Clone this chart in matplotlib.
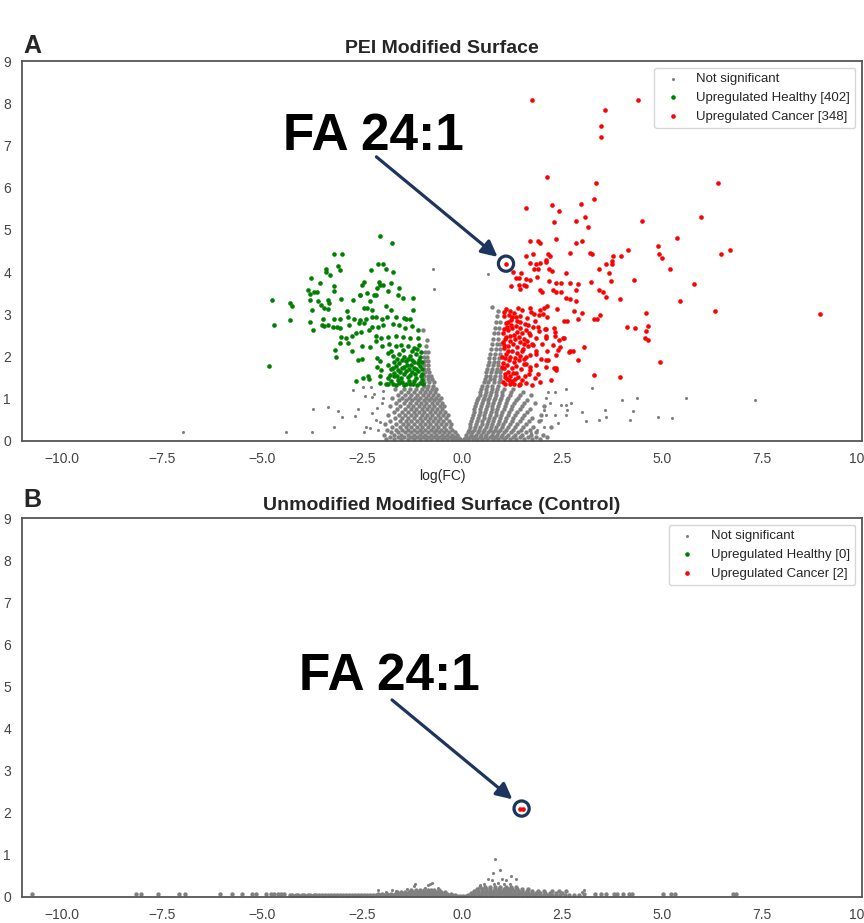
import numpy as np
import matplotlib.pyplot as plt

plt.rcParams['font.family'] = ['Liberation Sans', 'DejaVu Sans']
plt.rcParams['axes.linewidth'] = 1.3

# ---------------- data ----------------
# panel A: PEI modified surface
# not significant points, dense lobes given as rows (y, [x ...])
ns_pei_left_rows = [
    (0.04, [-1.90, -1.71, -1.52, -1.36, -1.20, -1.05, -0.91, -0.77, -0.63, -0.50, -0.37, -0.25, -0.14, -0.05]),
    (0.09, [-1.81, -1.61, -1.44, -1.28, -1.13, -0.98, -0.84, -0.70, -0.57, -0.44, -0.31, -0.19, -0.09]),
    (0.15, [-1.95, -1.70, -1.53, -1.36, -1.21, -1.06, -0.92, -0.78, -0.64, -0.51, -0.38, -0.26, -0.12]),
    (0.21, [-1.78, -1.59, -1.43, -1.28, -1.13, -0.99, -0.85, -0.71, -0.58, -0.45, -0.32, -0.17]),
    (0.27, [-1.88, -1.66, -1.50, -1.35, -1.20, -1.06, -0.92, -0.78, -0.65, -0.52, -0.39, -0.25]),
    (0.33, [-1.74, -1.56, -1.41, -1.27, -1.13, -0.99, -0.85, -0.72, -0.59, -0.46, -0.30]),
    (0.40, [-1.92, -1.64, -1.48, -1.34, -1.20, -1.06, -0.92, -0.79, -0.66, -0.53, -0.40, -0.28]),
    (0.47, [-1.79, -1.56, -1.41, -1.27, -1.13, -0.99, -0.86, -0.73, -0.60, -0.47, -0.32]),
    (0.54, [-1.68, -1.49, -1.34, -1.20, -1.06, -0.93, -0.80, -0.67, -0.54, -0.40]),
    (0.61, [-1.86, -1.58, -1.42, -1.28, -1.14, -1.00, -0.87, -0.74, -0.61, -0.48, -0.36]),
    (0.68, [-1.71, -1.50, -1.35, -1.21, -1.07, -0.94, -0.81, -0.68, -0.55, -0.42]),
    (0.75, [-1.62, -1.43, -1.28, -1.14, -1.01, -0.88, -0.75, -0.62, -0.49]),
    (0.82, [-1.80, -1.54, -1.36, -1.22, -1.08, -0.95, -0.82, -0.69, -0.56, -0.44]),
    (0.89, [-1.66, -1.46, -1.30, -1.16, -1.02, -0.89, -0.76, -0.63, -0.50]),
    (0.96, [-1.57, -1.39, -1.24, -1.10, -0.96, -0.83, -0.70, -0.58]),
    (1.03, [-1.74, -1.50, -1.33, -1.18, -1.04, -0.91, -0.78, -0.65, -0.53]),
    (1.10, [-1.61, -1.43, -1.27, -1.12, -0.98, -0.85, -0.72, -0.60]),
    (1.17, [-1.53, -1.36, -1.21, -1.06, -0.93, -0.80, -0.67]),
    (1.24, [-1.68, -1.45, -1.30, -1.15, -1.01, -0.88, -0.75, -0.64]),
    (1.31, [-0.96, -0.84, -0.72]),
    (1.39, [-0.94, -0.82, -0.70]),
    (1.47, [-0.97, -0.86, -0.76]),
    (1.55, [-0.95, -0.84, -0.78]),
    (1.63, [-0.93, -0.82]),
    (1.71, [-0.96, -0.86]),
    (1.80, [-0.94, -0.84]),
    (1.89, [-0.92, -0.85]),
    (1.98, [-0.96, -0.88]),
    (2.10, [-0.93, -0.86]),
    (2.25, [-0.91]),
    (2.40, [-0.88]),
    (2.63, [-0.97]),
]
ns_pei_right_rows = [
    (0.04, [0.06, 0.15, 0.27, 0.38, 0.51, 0.63, 0.77, 0.90, 1.04, 1.19, 1.36, 1.55, 1.74, 1.96]),
    (0.09, [0.09, 0.19, 0.31, 0.44, 0.57, 0.70, 0.83, 0.97, 1.11, 1.27, 1.45, 1.64, 1.86, 2.12]),
    (0.15, [0.11, 0.23, 0.35, 0.48, 0.61, 0.74, 0.87, 1.01, 1.16, 1.32, 1.51, 1.72, 2.02]),
    (0.21, [0.14, 0.26, 0.39, 0.52, 0.65, 0.78, 0.91, 1.06, 1.22, 1.40, 1.60, 1.84]),
    (0.27, [0.17, 0.30, 0.43, 0.56, 0.69, 0.82, 0.96, 1.11, 1.28, 1.47, 1.69]),
    (0.33, [0.19, 0.33, 0.46, 0.59, 0.72, 0.86, 1.00, 1.15, 1.33, 1.53, 1.78, 2.22]),
    (0.40, [0.21, 0.35, 0.49, 0.62, 0.75, 0.89, 1.03, 1.19, 1.38, 1.60]),
    (0.47, [0.23, 0.37, 0.51, 0.65, 0.78, 0.92, 1.07, 1.24, 1.44, 1.68, 1.93]),
    (0.54, [0.25, 0.40, 0.54, 0.68, 0.81, 0.95, 1.10, 1.28, 1.50, 1.76]),
    (0.61, [0.27, 0.42, 0.56, 0.70, 0.84, 0.98, 1.14, 1.33, 1.56, 1.98]),
    (0.68, [0.29, 0.44, 0.58, 0.72, 0.86, 1.01, 1.18, 1.38, 1.62]),
    (0.75, [0.30, 0.46, 0.60, 0.74, 0.88, 1.04, 1.22, 1.44, 1.70]),
    (0.82, [0.32, 0.48, 0.62, 0.76, 0.91, 1.07, 1.26, 1.50, 2.04]),
    (0.89, [0.35, 0.50, 0.64, 0.78, 0.93, 1.10, 1.30, 1.56, 1.82]),
    (0.96, [0.38, 0.52, 0.66, 0.80, 0.95, 1.13, 1.35, 1.63]),
    (1.03, [0.41, 0.55, 0.68, 0.82, 0.97, 1.16, 1.40]),
    (1.10, [0.44, 0.57, 0.70, 0.84, 0.99, 1.19, 1.46, 1.72]),
    (1.17, [0.46, 0.59, 0.72, 0.86, 1.01, 1.23, 1.53]),
    (1.24, [0.48, 0.61, 0.74, 0.88, 1.04, 1.28]),
    (1.31, [0.51, 0.63, 0.76, 0.89]),
    (1.39, [0.54, 0.66, 0.79, 0.92]),
    (1.47, [0.57, 0.69, 0.81, 0.94]),
    (1.55, [0.59, 0.71, 0.83, 0.95]),
    (1.63, [0.61, 0.73, 0.85, 0.96]),
    (1.71, [0.63, 0.75, 0.87, 0.97]),
    (1.79, [0.65, 0.77, 0.89]),
    (1.88, [0.67, 0.79, 0.91]),
    (1.97, [0.68, 0.80, 0.92]),
    (2.07, [0.70, 0.82, 0.94]),
    (2.18, [0.72, 0.84, 0.95]),
    (2.30, [0.75, 0.87, 0.96]),
    (2.42, [0.77, 0.89]),
    (2.55, [0.80, 0.91]),
    (2.68, [0.82, 0.93]),
    (2.82, [0.84, 0.95]),
    (2.96, [0.87]),
    (3.08, [0.90]),
    (3.17, [0.74]),
]
ns_pei_scatter = [
    (-6.97, 0.22), (-4.39, 0.22), (-3.75, 0.22), (-3.72, 0.76), (-3.36, 0.81), (-3.20, 0.33),
    (-3.09, 0.72), (-3.01, 0.56), (-2.73, 1.21), (-2.67, 0.59), (-2.61, 0.76), (-2.47, 1.29),
    (-2.42, 1.07), (-2.28, 1.29), (-2.25, 1.05), (-2.45, 0.22), (-2.41, 0.34), (-2.31, 0.30),
    (-2.25, 0.67), (-2.15, 0.50), (-2.09, 0.26), (-2.01, 0.89), (-1.97, 1.01), (-2.05, 0.45),
    (-2.12, 0.78), (-1.98, 1.18), (-2.20, 1.12), (-0.73, 4.07), (-0.69, 3.59), (0.66, 3.95),
    (7.33, 0.96), (5.61, 1.03), (5.26, 0.54), (4.90, 0.56), (4.38, 1.03), (4.28, 0.71),
    (4.20, 0.50), (3.99, 0.96), (3.57, 0.74), (3.59, 0.58), (3.43, 0.49), (3.11, 0.48),
    (3.01, 0.69), (3.26, 1.26), (2.60, 1.24), (2.72, 0.91), (2.59, 0.86), (2.47, 0.86),
    (2.62, 0.73), (2.59, 0.61), (2.41, 0.43), (2.32, 0.61), (2.14, 1.17), (2.32, 1.17),
    (2.10, 1.01), (2.19, 0.89), (2.04, 0.73), (2.10, 0.61), (1.97, 0.50), (2.05, 0.34),
    (1.88, 0.26), (1.72, 0.20),
]
healthy_pei = [
    (-4.83, 1.78), (-4.76, 3.35), (-4.71, 2.74), (-4.30, 2.87), (-4.29, 3.28), (-4.25, 3.20),
    (-2.06, 4.86), (-1.75, 4.70), (-3.19, 4.43), (-3.00, 4.43), (-3.09, 4.15), (-3.05, 4.05),
    (-3.40, 4.07), (-3.41, 4.01), (-3.31, 3.93), (-2.10, 4.19), (-1.97, 4.19), (-2.28, 4.05),
    (-1.90, 4.07), (-1.73, 4.00), (-3.77, 3.85), (-3.55, 3.74), (-3.84, 3.58), (-3.79, 3.48),
    (-3.69, 3.52), (-3.63, 3.52), (-3.21, 3.66), (-3.20, 3.55), (-2.46, 3.76), (-2.49, 3.69),
    (-2.08, 3.77), (-2.04, 3.70), (-1.97, 3.69), (-2.12, 3.62), (-1.78, 3.75), (-1.57, 3.62),
    (-1.84, 3.55), (-2.56, 3.46), (-2.54, 3.45), (-2.38, 3.50), (-2.19, 3.45), (-1.61, 3.45),
    (-1.48, 3.38), (-1.23, 3.39), (-3.79, 3.33), (-3.61, 3.32), (-3.53, 3.22), (-3.36, 3.34),
    (-3.32, 3.28), (-3.03, 3.36), (-2.73, 3.35), (-2.30, 3.32), (-2.14, 3.45), (-3.76, 3.10),
    (-3.44, 3.14), (-3.36, 3.13), (-2.87, 3.08), (-2.46, 3.14), (-2.37, 3.14), (-2.24, 3.10),
    (-1.90, 3.20), (-1.78, 3.10), (-1.23, 3.10), (-3.47, 2.90), (-3.20, 2.88), (-3.05, 2.88),
    (-2.86, 2.93), (-2.71, 2.88), (-2.55, 2.86), (-2.40, 2.90), (-2.26, 2.93), (-2.14, 2.94),
    (-2.01, 2.90), (-1.88, 2.93), (-1.66, 2.93), (-1.46, 2.92), (-1.40, 2.88), (-1.30, 2.88),
    (-3.79, 2.82), (-3.73, 2.64), (-3.51, 2.75), (-3.44, 2.73), (-3.34, 2.75), (-3.23, 2.70),
    (-3.13, 2.70), (-3.05, 2.67), (-2.82, 2.75), (-2.58, 2.79), (-2.44, 2.79), (-2.24, 2.70),
    (-2.09, 2.70), (-1.97, 2.75), (-1.73, 2.77), (-1.57, 2.75), (-1.42, 2.67), (-1.25, 2.73),
    (-1.11, 2.63), (-3.03, 2.47), (-2.90, 2.43), (-2.74, 2.49), (-2.65, 2.55), (-2.53, 2.59),
    (-2.33, 2.63), (-2.14, 2.49), (-2.02, 2.43), (-1.85, 2.47), (-1.65, 2.49), (-1.48, 2.46),
    (-1.31, 2.43), (-1.11, 2.43), (-3.05, 2.32), (-2.84, 2.32), (-2.76, 2.12), (-2.50, 2.26),
    (-2.30, 2.23), (-2.14, 2.36), (-2.00, 2.24), (-1.82, 2.30), (-1.66, 2.24), (-1.52, 2.28),
    (-1.35, 2.24), (-1.19, 2.20), (-1.07, 2.28), (-3.17, 2.15), (-3.14, 1.99), (-2.59, 1.91),
    (-2.50, 1.94), (-2.13, 1.96), (-2.05, 1.89), (-1.86, 2.08), (-1.73, 2.01), (-1.57, 2.06),
    (-1.45, 2.00), (-1.31, 2.01), (-1.16, 2.06), (-1.06, 2.00), (-2.13, 1.76), (-2.02, 1.68),
    (-1.86, 1.80), (-1.73, 1.72), (-1.57, 1.84), (-1.45, 1.76), (-1.28, 1.80), (-1.11, 1.84),
    (-2.48, 1.49), (-2.35, 1.53), (-2.33, 1.46), (-2.06, 1.53), (-1.86, 1.49), (-1.69, 1.53),
    (-1.52, 1.49), (-1.36, 1.51), (-1.15, 1.49), (-1.03, 1.53), (-2.66, 1.42), (-2.06, 1.38),
    (-1.90, 1.35), (-1.73, 1.35), (-1.57, 1.37), (-1.40, 1.35), (-1.23, 1.35), (-1.06, 1.37),
    (-1.84, 1.34), (-1.77, 1.41), (-1.66, 1.33), (-1.61, 1.45), (-1.49, 1.40), (-1.44, 1.33),
    (-1.33, 1.43), (-1.29, 1.36), (-1.19, 1.42), (-1.12, 1.33), (-1.01, 1.44), (-0.98, 1.34),
    (-1.80, 1.56), (-1.71, 1.61), (-1.63, 1.55), (-1.55, 1.63), (-1.46, 1.58), (-1.39, 1.65),
    (-1.30, 1.57), (-1.24, 1.64), (-1.17, 1.58), (-1.09, 1.66), (-1.00, 1.59), (-1.77, 1.70),
    (-1.66, 1.77), (-1.60, 1.69), (-1.51, 1.72), (-1.38, 1.81), (-1.33, 1.70), (-1.21, 1.74),
    (-1.14, 1.71), (-1.05, 1.78), (-0.99, 1.71), (-1.69, 1.88), (-1.62, 1.94), (-1.50, 1.91),
    (-1.41, 1.89), (-1.36, 1.95), (-1.24, 1.92), (-1.19, 1.88), (-1.08, 1.93), (-1.00, 1.87),
    (-1.78, 2.12), (-1.47, 2.15), (-1.26, 2.14), (-1.12, 2.17), (-1.02, 2.11),
]
cancer_pei = [
    (1.75, 8.07), (4.41, 8.07), (3.57, 7.84), (3.47, 7.45), (3.47, 7.20), (2.13, 6.26),
    (3.35, 6.10), (6.41, 6.10), (1.59, 5.53), (2.24, 5.58), (2.42, 5.45), (2.98, 5.61),
    (3.30, 5.73), (2.31, 5.18), (2.84, 5.21), (3.08, 5.30), (3.16, 5.06), (4.51, 5.21),
    (5.98, 5.30), (5.38, 4.80), (1.69, 4.74), (1.90, 4.73), (1.94, 4.70), (2.36, 4.78),
    (2.86, 4.70), (3.01, 4.74), (4.89, 4.62), (1.59, 4.39), (1.78, 4.43), (2.14, 4.43),
    (2.20, 4.38), (2.70, 4.46), (3.20, 4.45), (3.25, 4.44), (3.78, 4.38), (3.97, 4.38),
    (4.16, 4.52), (4.92, 4.42), (5.00, 4.34), (6.47, 4.42), (6.69, 4.52), (1.69, 4.21),
    (1.86, 4.20), (1.95, 4.21), (2.10, 4.29), (2.11, 4.23), (3.59, 4.20), (3.76, 4.27),
    (3.76, 4.19), (5.21, 4.07), (1.80, 4.07), (1.90, 4.07), (2.17, 4.07), (2.24, 4.02),
    (2.59, 3.99), (3.43, 4.07), (3.67, 3.99), (1.27, 4.01), (1.47, 3.99), (1.43, 3.85),
    (1.35, 3.85), (1.60, 3.83), (1.71, 3.82), (1.88, 3.88), (2.18, 3.78), (2.35, 3.75),
    (2.48, 3.75), (2.71, 3.75), (2.89, 3.72), (3.23, 3.76), (3.73, 3.78), (4.30, 3.82),
    (5.79, 3.72), (1.23, 3.68), (1.43, 3.69), (1.45, 3.59), (1.55, 3.70), (1.61, 3.67),
    (1.94, 3.58), (1.99, 3.53), (2.27, 3.58), (2.35, 3.53), (2.47, 3.52), (2.85, 3.58),
    (3.43, 3.58), (3.53, 3.52), (2.59, 3.38), (2.70, 3.36), (2.85, 3.31), (3.61, 3.40),
    (3.96, 3.37), (5.44, 3.32), (6.33, 3.09), (8.95, 3.01), (4.61, 3.03), (4.64, 2.73),
    (4.61, 2.61), (4.57, 2.43), (4.65, 2.40), (4.13, 2.71), (4.33, 2.67), (4.95, 1.87),
    (3.94, 1.52), (3.29, 1.56), (3.05, 2.22), (2.91, 1.92), (2.71, 2.12), (2.78, 2.12),
    (2.53, 2.44), (2.43, 2.39), (2.63, 2.84), (2.55, 2.84), (2.80, 3.07), (2.99, 3.03),
    (2.89, 2.90), (3.31, 2.90), (3.38, 2.90), (3.46, 2.99), (2.29, 2.67), (2.32, 2.58),
    (2.28, 2.28), (2.40, 2.16), (2.22, 1.44), (2.29, 1.74), (2.36, 1.68), (2.15, 1.92),
    (2.10, 1.93), (1.91, 1.59), (2.10, 2.45), (2.09, 2.66), (1.74, 1.33), (1.42, 1.33),
    (1.11, 3.12), (1.40, 3.16), (1.70, 3.16), (1.95, 3.11), (2.04, 3.15), (2.12, 3.20),
    (1.17, 2.98), (1.25, 2.93), (1.34, 2.94), (1.44, 2.96), (1.72, 3.06), (1.80, 3.01),
    (1.92, 2.98), (2.02, 3.01), (2.13, 2.94), (2.38, 3.12), (1.15, 2.83), (1.23, 2.87),
    (1.38, 2.85), (1.46, 2.82), (1.65, 2.75), (1.77, 2.71), (1.89, 2.69), (2.07, 2.66),
    (1.05, 2.65), (1.16, 2.63), (1.25, 2.67), (1.38, 2.59), (1.50, 2.55), (1.61, 2.63),
    (1.70, 2.50), (1.85, 2.44), (2.09, 2.48), (2.32, 2.48), (2.54, 2.44), (1.09, 2.47),
    (1.21, 2.38), (1.32, 2.41), (1.44, 2.35), (1.55, 2.30), (1.65, 2.24), (1.77, 2.28),
    (1.99, 2.30), (2.46, 2.22), (1.05, 2.20), (1.16, 2.14), (1.25, 2.12), (1.38, 2.08),
    (1.49, 2.12), (1.59, 2.00), (1.71, 2.04), (1.86, 2.06), (2.12, 2.12), (2.35, 2.04),
    (2.67, 2.10), (1.07, 1.96), (1.17, 1.92), (1.30, 1.86), (1.42, 1.92), (1.55, 1.83),
    (1.69, 1.76), (1.84, 1.80), (2.09, 1.75), (2.34, 1.72), (1.05, 1.72), (1.16, 1.64),
    (1.28, 1.60), (1.40, 1.52), (1.17, 1.44), (1.07, 1.36), (1.19, 1.35), (1.46, 1.36),
    (1.67, 1.58), (1.07, 1.52), (1.01, 1.75), (1.01, 1.99), (1.02, 2.35), (1.02, 2.55),
    (1.09, 2.79), (1.05, 2.95), (1.03, 1.40), (1.12, 1.48), (1.24, 1.42), (1.33, 1.47),
    (1.08, 1.58), (1.21, 1.55), (1.35, 1.62), (1.50, 1.45), (1.58, 1.55), (1.03, 1.85),
    (1.13, 1.80), (1.25, 1.72), (1.36, 1.78), (1.47, 1.70), (1.60, 1.82), (1.10, 2.05),
    (1.21, 2.00), (1.33, 1.97), (1.45, 2.02), (1.04, 2.28), (1.14, 2.25), (1.27, 2.30),
    (1.38, 2.22), (1.52, 2.18), (1.63, 2.38), (1.08, 2.42), (1.20, 2.48), (1.31, 2.52),
    (1.43, 2.46), (1.55, 2.42), (1.12, 2.70), (1.23, 2.75), (1.34, 2.72), (1.46, 2.68),
    (1.58, 2.78), (1.68, 2.55), (1.06, 3.05), (1.19, 3.08), (1.30, 3.02), (1.50, 3.10),
    (1.62, 2.92), (1.82, 2.85), (1.75, 2.30), (1.86, 2.12), (1.93, 2.60), (1.98, 1.95),
    (1.56, 1.95), (1.70, 1.68), (1.82, 1.50), (1.95, 1.40), (1.29, 1.35), (1.60, 1.38),
    (1.10, 4.20),
]
healthy_count_pei = 402
cancer_count_pei = 348
fa_pei = (1.10, 4.20)

# panel B: unmodified surface (control)
ns_ctrl_rows = [
    (0.07, [-10.76, -8.14, -8.02, -7.60, -7.08, -6.93, -6.06, -5.75, -5.50, -5.25, -5.14,
            -4.90, -4.77, -4.69, -4.61, -4.52, -4.44]),
    (0.05, [-4.31, -4.24, -4.16, -4.09, -4.01, -3.94, -3.86, -3.79, -3.71, -3.64, -3.57,
            -3.49, -3.42, -3.34, -3.27, -3.19, -3.12, -3.04, -2.97, -2.89, -2.82, -2.74,
            -2.67, -2.59, -2.52, -2.44, -2.37, -2.29, -2.22]),
    (0.03, [-4.20, -4.05, -3.90, -3.75, -3.60, -3.45, -3.30, -3.15, -3.00, -2.85, -2.70,
            -2.55, -2.40, -2.25]),
    (0.04, [-2.15, -2.05, -1.95, -1.85, -1.75, -1.65, -1.55, -1.45, -1.35, -1.25, -1.15,
            -1.05, -0.95, -0.85, -0.75, -0.65, -0.55, -0.45, -0.35, -0.25, -0.17,
            0.15, 0.24, 0.33, 0.42, 0.51, 0.60, 0.69, 0.78, 0.87, 0.96, 1.05, 1.14, 1.23,
            1.32, 1.41, 1.50, 1.59, 1.68, 1.77, 1.86, 1.95, 2.05, 2.15, 2.25, 2.35, 2.46,
            2.57, 2.68, 2.80, 2.92]),
    (0.08, [-2.10, -1.99, -1.88, -1.78, -1.68, -1.57, -1.47, -1.37, -1.27, -1.17, -1.07,
            -0.97, -0.87, -0.77, -0.67, -0.57, -0.47, -0.37, -0.28]),
    (0.12, [-1.62, -1.52, -1.42, -1.32, -1.22, -1.12, -1.02, -0.92, -0.82, -0.72, -0.62,
            -0.52, -0.42]),
    (0.16, [-1.28, -1.15, -1.04, -0.95, -0.86, -0.78, -0.69, -0.58]),
    (0.02, [-0.12, -0.05, 0.03, 0.09]),
    (0.09, [0.22, 0.31, 0.40, 0.49, 0.58, 0.67, 0.76, 0.85, 0.94, 1.03, 1.12, 1.21, 1.30,
            1.39, 1.48, 1.57, 1.66, 1.75, 1.85, 1.96, 2.08, 2.20, 2.34, 2.50]),
    (0.14, [0.30, 0.40, 0.50, 0.60, 0.70, 0.80, 0.90, 1.00, 1.10, 1.20, 1.30, 1.40, 1.50,
            1.62, 1.75, 1.90, 2.06, 2.25, 2.42, 2.60]),
    (0.19, [0.38, 0.49, 0.60, 0.71, 0.82, 0.93, 1.04, 1.15, 1.26, 1.37, 1.50, 1.65]),
    (0.24, [0.45, 0.58, 0.70, 0.83, 0.96, 1.09, 1.22, 1.36]),
    (0.06, [3.05, 3.33, 3.47, 3.59, 3.81, 3.88, 4.03, 4.17, 4.26, 5.02, 5.23, 5.32,
            6.78, 6.86]),
]
ns_ctrl_scatter = [
    (-2.11, 0.17), (-1.90, 0.13), (-1.74, 0.16), (-1.64, 0.15), (-1.37, 0.20), (-1.21, 0.27),
    (-1.18, 0.30), (-0.92, 0.22), (-0.84, 0.28), (-0.80, 0.32), (-0.75, 0.34), (-0.60, 0.21),
    (0.46, 0.28), (0.55, 0.30), (0.66, 0.42), (0.74, 0.40), (0.78, 0.56), (0.80, 0.32),
    (0.82, 0.90), (0.95, 0.64), (1.01, 0.42), (1.11, 0.40), (1.23, 0.51), (1.34, 0.42),
    (1.05, 0.30), (0.90, 0.34), (1.20, 0.32), (3.05, 0.16), (3.00, 0.12),
]
healthy_ctrl = []
cancer_ctrl = [(1.46, 2.10), (1.52, 2.10)]
healthy_count_ctrl = 0
cancer_count_ctrl = 2
fa_ctrl = (1.49, 2.10)

navy = '#1c355e'
txt = '#262626'


def rows_to_xy(rows):
    pts = [(x, y) for y, xs in rows for x in xs]
    return np.array(pts).reshape(-1, 2)


def volcano(ax, ns_dense, ns_sparse, healthy, cancer, n_h, n_c, title):
    ns_sparse = np.asarray(ns_sparse).reshape(-1, 2)
    healthy = np.asarray(healthy, dtype=float).reshape(-1, 2)
    cancer = np.asarray(cancer, dtype=float).reshape(-1, 2)
    # dense core drawn with slightly bigger dots so the mass reads as solid
    ax.scatter(ns_dense[:, 0], ns_dense[:, 1], s=10, c='grey', linewidths=0)
    ax.scatter(ns_sparse[:, 0], ns_sparse[:, 1], s=5, c='grey', linewidths=0,
               label='Not significant')
    ax.scatter(healthy[:, 0], healthy[:, 1], s=11, c='green', linewidths=0,
               label='Upregulated Healthy [{}]'.format(n_h))
    ax.scatter(cancer[:, 0], cancer[:, 1], s=11, c='red', linewidths=0,
               label='Upregulated Cancer [{}]'.format(n_c))
    ax.set_xlim(-11, 10)
    ax.set_ylim(0, 9)
    ax.set_xticks(np.arange(-10, 10.1, 2.5))
    ax.set_yticks(range(10))
    ax.tick_params(length=0, labelsize=10, colors='#444444', pad=8)
    for sp in ax.spines.values():
        sp.set_color('#555555')
    ax.set_title(title, fontsize=14, fontweight='bold', color=txt, pad=6)
    leg = ax.legend(loc='upper right', fontsize=9.5, frameon=True)
    for t in leg.get_texts():
        t.set_color(txt)


def highlight(ax, pt, text_xy, tail, tip):
    ax.scatter([pt[0]], [pt[1]], s=120, facecolors='none', edgecolors=navy,
               linewidths=2.3, zorder=5)
    ax.text(text_xy[0], text_xy[1], 'FA 24:1', fontsize=37, fontweight='bold',
            ha='center', va='baseline', color='black')
    ax.annotate('', xy=tip, xytext=tail,
                arrowprops=dict(arrowstyle='-|>', color=navy, lw=2.3,
                                mutation_scale=24, shrinkA=0, shrinkB=0))


fig = plt.figure(figsize=(8.64, 9.23), dpi=100)
ax1 = fig.add_axes([22 / 864, 1 - 441 / 923, 840 / 864, 380 / 923])
ax2 = fig.add_axes([22 / 864, 1 - 897 / 923, 840 / 864, 379 / 923])

volcano(ax1, rows_to_xy(ns_pei_left_rows + ns_pei_right_rows), ns_pei_scatter,
        healthy_pei, cancer_pei, healthy_count_pei, cancer_count_pei,
        'PEI Modified Surface')
ax1.set_xlabel('log(FC)', fontsize=10, color=txt, labelpad=2)
highlight(ax1, fa_pei, (-2.21, 6.90), (-2.14, 6.73), (0.89, 4.36))

volcano(ax2, rows_to_xy(ns_ctrl_rows), ns_ctrl_scatter,
        healthy_ctrl, cancer_ctrl, healthy_count_ctrl, cancer_count_ctrl,
        'Unmodified Modified Surface (Control)')
highlight(ax2, fa_ctrl, (-1.82, 4.92), (-1.75, 4.68), (1.26, 2.32))

fig.text(23 / 864, 1 - 53 / 923, 'A', fontsize=18, fontweight='bold',
         color=txt, va='baseline')
fig.text(23 / 864, 1 - 507 / 923, 'B', fontsize=18, fontweight='bold',
         color=txt, va='baseline')

fig.savefig('out.png', dpi=100)
